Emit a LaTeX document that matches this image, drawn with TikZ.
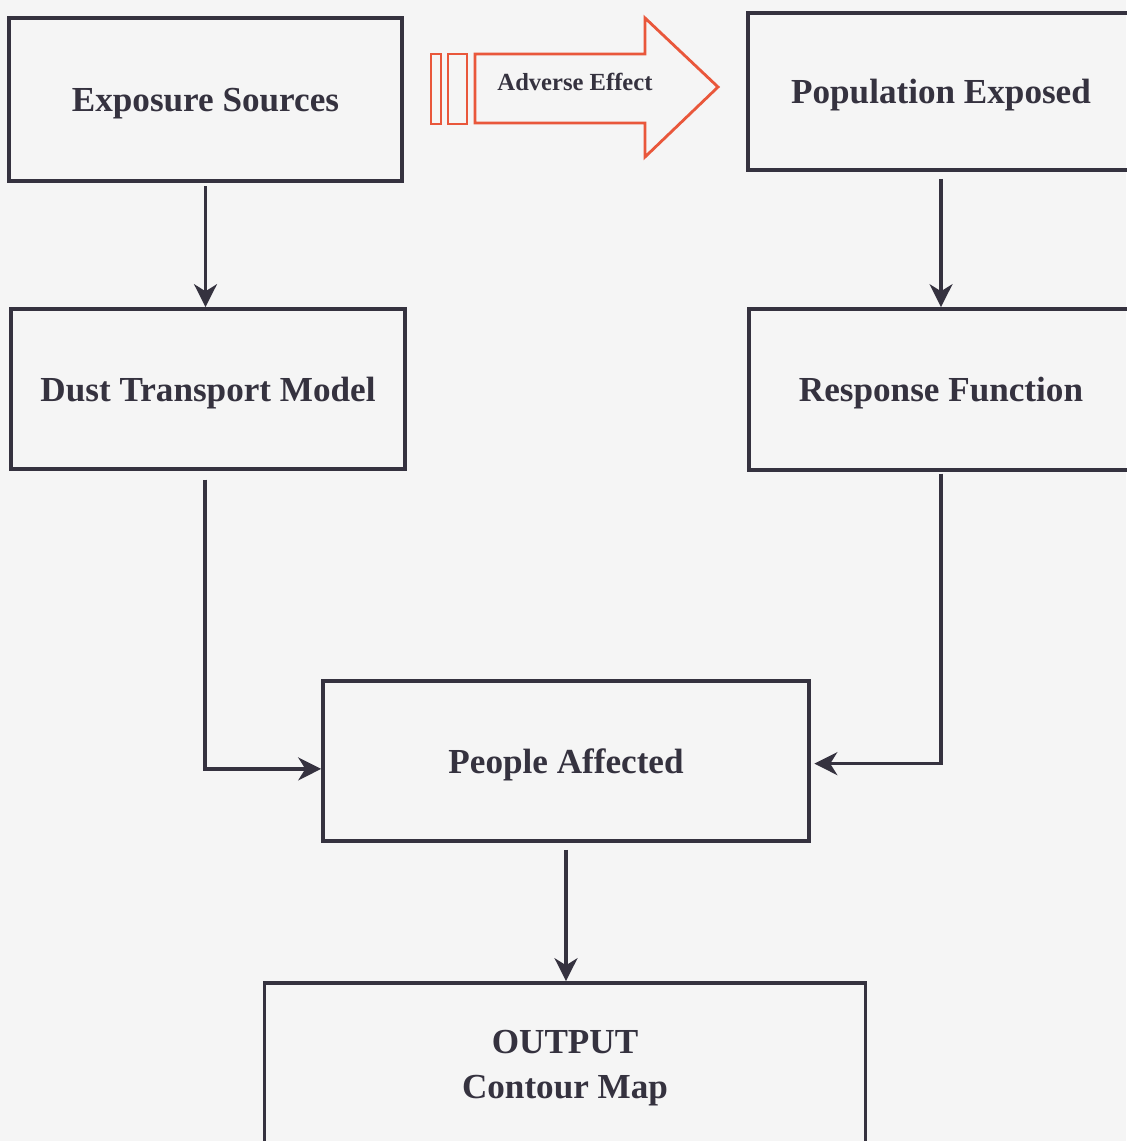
\documentclass[tikz,border=0pt]{standalone}
\usepackage{fontspec}
\setmainfont{Liberation Serif}
\usetikzlibrary{arrows.meta}

\definecolor{ink}{HTML}{35323F}
\definecolor{paper}{HTML}{F5F5F5}
\definecolor{alert}{HTML}{E9573B}

\tikzset{
  stage/.style={draw=ink,line width=2.2pt,text=ink,align=center,text depth=0pt,
    font=\fontsize{20}{25.5}\selectfont\bfseries},
  flow/.style={draw=ink,line width=2pt,-{Stealth[length=13pt,width=13pt,inset=4pt]}}
}

\begin{document}
\begin{tikzpicture}[x=0.02cm,y=-0.02cm]
\fill[paper] (0,0) rectangle (1126,1141);
\useasboundingbox (0,0) rectangle (1126,1141);

\node[stage,minimum width=7.86cm,minimum height=3.26cm] (ES) at (205.5,99.5) {Exposure Sources};
\node[stage,minimum width=7.72cm,minimum height=3.14cm] (PE) at (941,91.5) {Population Exposed};
\node[stage,minimum width=7.88cm,minimum height=3.2cm] (DT) at (208,389) {Dust Transport Model};
\node[stage,minimum width=7.68cm,minimum height=3.22cm] (RF) at (941,389.5) {Response Function};
\node[stage,minimum width=9.72cm,minimum height=3.2cm] (PA) at (566,761) {People Affected};
\node[stage,minimum width=12.02cm,minimum height=3.24cm] (OUT) at (565,1064) {OUTPUT\\Contour Map};

% adverse effect arrow
\draw[alert,line width=1.6pt] (431,54) rectangle (441,124);
\draw[alert,line width=1.6pt] (448,54) rectangle (467,124);
\draw[alert,line width=1.6pt,line join=miter] (475,54) -- (645,54) -- (645,18) -- (718,87)
  -- (645,157) -- (645,123) -- (475,123) -- cycle;
\node[text=ink,font=\fontsize{14}{16}\selectfont\bfseries] (adv) at (575,82) {Adverse Effect};

\draw[flow] ([yshift=-2pt]ES.south) -- (ES.south |- DT.north);
\draw[flow] ([xshift=-1.7pt,yshift=-5pt]DT.south) |- ([yshift=-4.5pt]PA.west);
\draw[flow] ([yshift=-4pt]PE.south) -- (PE.south |- RF.north);
\draw[flow] ([yshift=-1pt]RF.south) |- ([xshift=2pt,yshift=-1.5pt]PA.east);
\draw[flow] ([yshift=-4pt]PA.south) -- (PA.south |- OUT.north);
\end{tikzpicture}
\end{document}
